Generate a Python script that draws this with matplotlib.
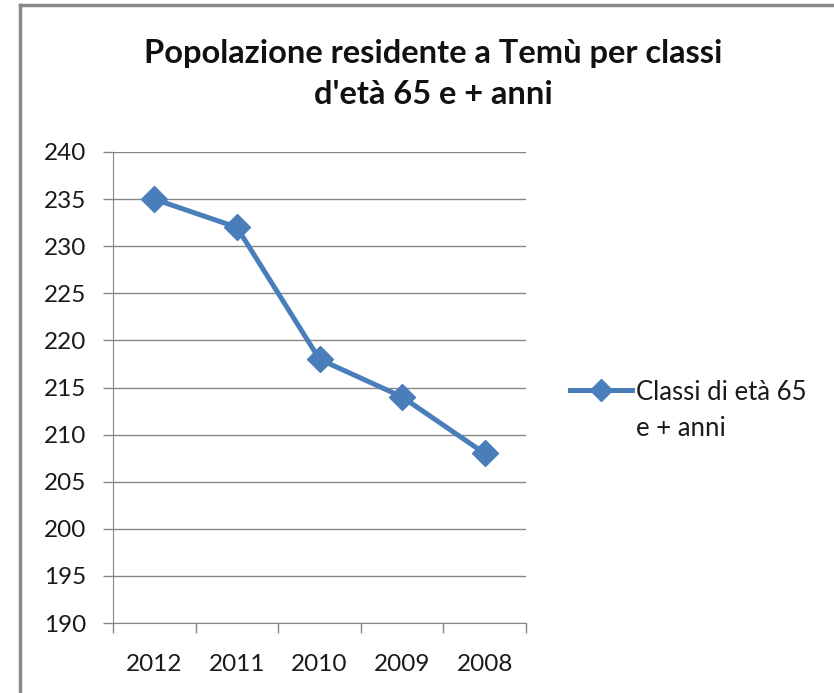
import matplotlib
matplotlib.use("Agg")
import matplotlib.pyplot as plt
from matplotlib.lines import Line2D

years = ["2012", "2011", "2010", "2009", "2008"]
values = [235, 232, 218, 214, 208]
series_name = "Classi di età 65\ne + anni"
title = "Popolazione residente a Temù per classi\nd'età 65 e + anni"
yticks = list(range(190, 241, 5))

plt.rcParams['font.family'] = ['Lato', 'DejaVu Sans']

fig = plt.figure(figsize=(8.34, 6.93), dpi=100)
ax = fig.add_axes([113/834, 1-623/693, 413/834, (623-152)/693])

blue = "#4a7ebb"
grid = "#868686"
txt = "#1a1a1a"
x = list(range(len(years)))
ax.plot(x, values, color=blue, lw=3.6, marker='D', markersize=13, zorder=3)

ax.set_xlim(-0.5, len(years)-0.5)
ax.set_ylim(190, 240)
ax.set_yticks(yticks)
ax.set_xticks(x)
ax.set_xticklabels(years)
ax.set_xticks([i-0.5 for i in range(len(years)+1)], minor=True)
ax.tick_params(axis='x', which='major', length=0, pad=22, labelsize=17.5, labelcolor=txt)
ax.tick_params(axis='x', which='minor', length=7, color=grid, width=1)
ax.tick_params(axis='y', length=7, color=grid, width=1, labelsize=17.5, labelcolor=txt, pad=12)
ax.grid(axis='y', color=grid, lw=1)
ax.set_axisbelow(True)
for s in ['top', 'right']:
    ax.spines[s].set_visible(False)
ax.spines['left'].set_color(grid)
ax.spines['bottom'].set_color(grid)

fig.text(433/834, 1-74/693, title, ha='center', va='center', fontsize=23.5,
         fontweight='bold', linespacing=1.5, color="#111111")

# legend (handle aligned with first text line, as in the original)
ly = 1-390/693
fig.add_artist(Line2D([570/834, 632/834], [ly, ly], color=blue, lw=3.6,
                      transform=fig.transFigure))
fig.add_artist(Line2D([601/834], [ly], color=blue, marker='D', markersize=11,
                      transform=fig.transFigure))
fig.text(636/834, 1-380/693, series_name, ha='left', va='top', fontsize=18.5,
         linespacing=1.55, color=txt)

# outer frame
fig.add_artist(Line2D([20/834, 1], [1-5/693, 1-5/693], color="#888888", lw=2.5, transform=fig.transFigure))
fig.add_artist(Line2D([20/834, 20/834], [0, 1-5/693], color="#888888", lw=2.5, transform=fig.transFigure))

fig.savefig("out.png", dpi=100)
